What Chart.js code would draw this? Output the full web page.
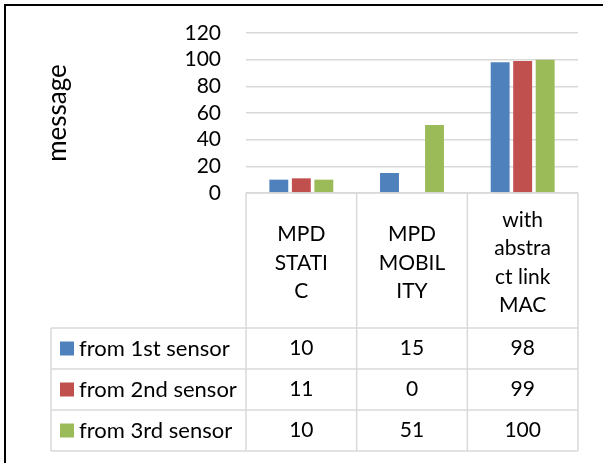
<!DOCTYPE html>
<html>
<head>
<meta charset="utf-8">
<script src="https://cdn.jsdelivr.net/npm/chart.js@4"></script>
<style>
  body { margin: 0; background: #fff; }
  #wrap { width: 603px; height: 463px; }
</style>
</head>
<body>
<div id="wrap"><canvas id="msgChart" width="603" height="463"></canvas></div>
<script>
// Data
const categories = [['MPD', 'STATI', 'C'], ['MPD', 'MOBIL', 'ITY'], ['with', 'abstra', 'ct link', 'MAC']];
const seriesNames = ['from 1st sensor', 'from 2nd sensor', 'from 3rd sensor'];
const sensor1 = [10, 15, 98];
const sensor2 = [11, 0, 99];
const sensor3 = [10, 51, 100];
const yTicks = [0, 20, 40, 60, 80, 100, 120];

const colors = ['#4F81BD', '#C0504D', '#9BBB59'];
const FONT = 'Lato';
const GRID = '#d9d9d9';

// Excel style data table below the plot area
const dataTable = {
    id: 'dataTable',
    beforeDraw(chart) {
        const c = chart.ctx;
        c.save();
        c.strokeStyle = '#000';
        c.lineWidth = 2;
        c.strokeRect(5, 5, 700, 700);
        c.restore();
    },
    afterDraw(chart) {
        const c = chart.ctx;
        const area = chart.chartArea;
        const x = chart.scales.x;
        const colW = (area.right - area.left) / categories.length;
        const headBottom = 328;
        const rowH = 41;
        const tableLeft = 51;
        const tableBottom = headBottom + rowH * seriesNames.length;

        c.save();
        c.strokeStyle = GRID;
        c.lineWidth = 1.5;
        c.beginPath();
        // top of header
        c.moveTo(area.left, area.bottom); c.lineTo(area.right, area.bottom);
        // vertical column lines
        for (let i = 0; i <= categories.length; i++) {
            const px = area.left + i * colW;
            c.moveTo(px, area.bottom); c.lineTo(px, tableBottom);
        }
        c.moveTo(tableLeft, headBottom); c.lineTo(tableLeft, tableBottom);
        // row lines
        for (let r = 0; r <= seriesNames.length; r++) {
            const py = headBottom + r * rowH;
            c.moveTo(tableLeft, py); c.lineTo(area.right, py);
        }
        c.stroke();

        c.textBaseline = 'middle';
        chart.data.datasets.forEach((ds, r) => {
            const cy = headBottom + r * rowH + rowH / 2;
            c.fillStyle = ds.backgroundColor;
            c.fillRect(60, cy - 7, 14, 14);
            c.fillStyle = '#000';
            c.textAlign = 'left';
            c.font = '22px ' + FONT;
            c.fillText(ds.label, 79, cy);
            c.textAlign = 'center';
            c.font = '21px ' + FONT;
            ds.data.forEach((v, i) => {
                c.fillText(String(v), x.getPixelForValue(i), cy);
            });
        });
        c.restore();
    }
};

new Chart(document.getElementById('msgChart'), {
    type: 'bar',
    data: {
        labels: categories,
        datasets: [
            { label: seriesNames[0], data: sensor1, backgroundColor: colors[0] },
            { label: seriesNames[1], data: sensor2, backgroundColor: colors[1] },
            { label: seriesNames[2], data: sensor3, backgroundColor: colors[2] }
        ]
    },
    options: {
        responsive: false,
        devicePixelRatio: 1,
        animation: false,
        categoryPercentage: 0.61,
        barPercentage: 0.84,
        layout: { padding: { left: 5, top: 33, right: 25, bottom: 12 } },
        plugins: {
            legend: { display: false },
            tooltip: { enabled: false }
        },
        scales: {
            x: {
                grid: { display: false, drawTicks: false },
                border: { display: false },
                ticks: {
                    color: '#000',
                    padding: 27,
                    maxRotation: 0,
                    autoSkip: false,
                    crossAlign: 'center',
                    font: { family: FONT, size: 21, lineHeight: '28.5px' }
                },
                afterFit(scale) { scale.height = 258; }
            },
            y: {
                min: 0,
                max: 120,
                afterBuildTicks(scale) { scale.ticks = yTicks.map(v => ({ value: v })); },
                grid: { color: GRID, lineWidth: 1.5, drawTicks: false },
                border: { display: false },
                ticks: {
                    color: '#000',
                    padding: 25,
                    autoSkip: false,
                    font: { family: FONT, size: 21 }
                },
                title: {
                    display: true,
                    text: 'message',
                    color: '#000',
                    padding: { top: 37, bottom: 0 },
                    font: { family: FONT, size: 26 }
                },
                afterFit(scale) {
                    scale.width = 241;
                    scale.paddingTop = 0;
                    scale.paddingBottom = 0;
                }
            }
        }
    },
    plugins: [dataTable]
});
</script>
</body>
</html>
